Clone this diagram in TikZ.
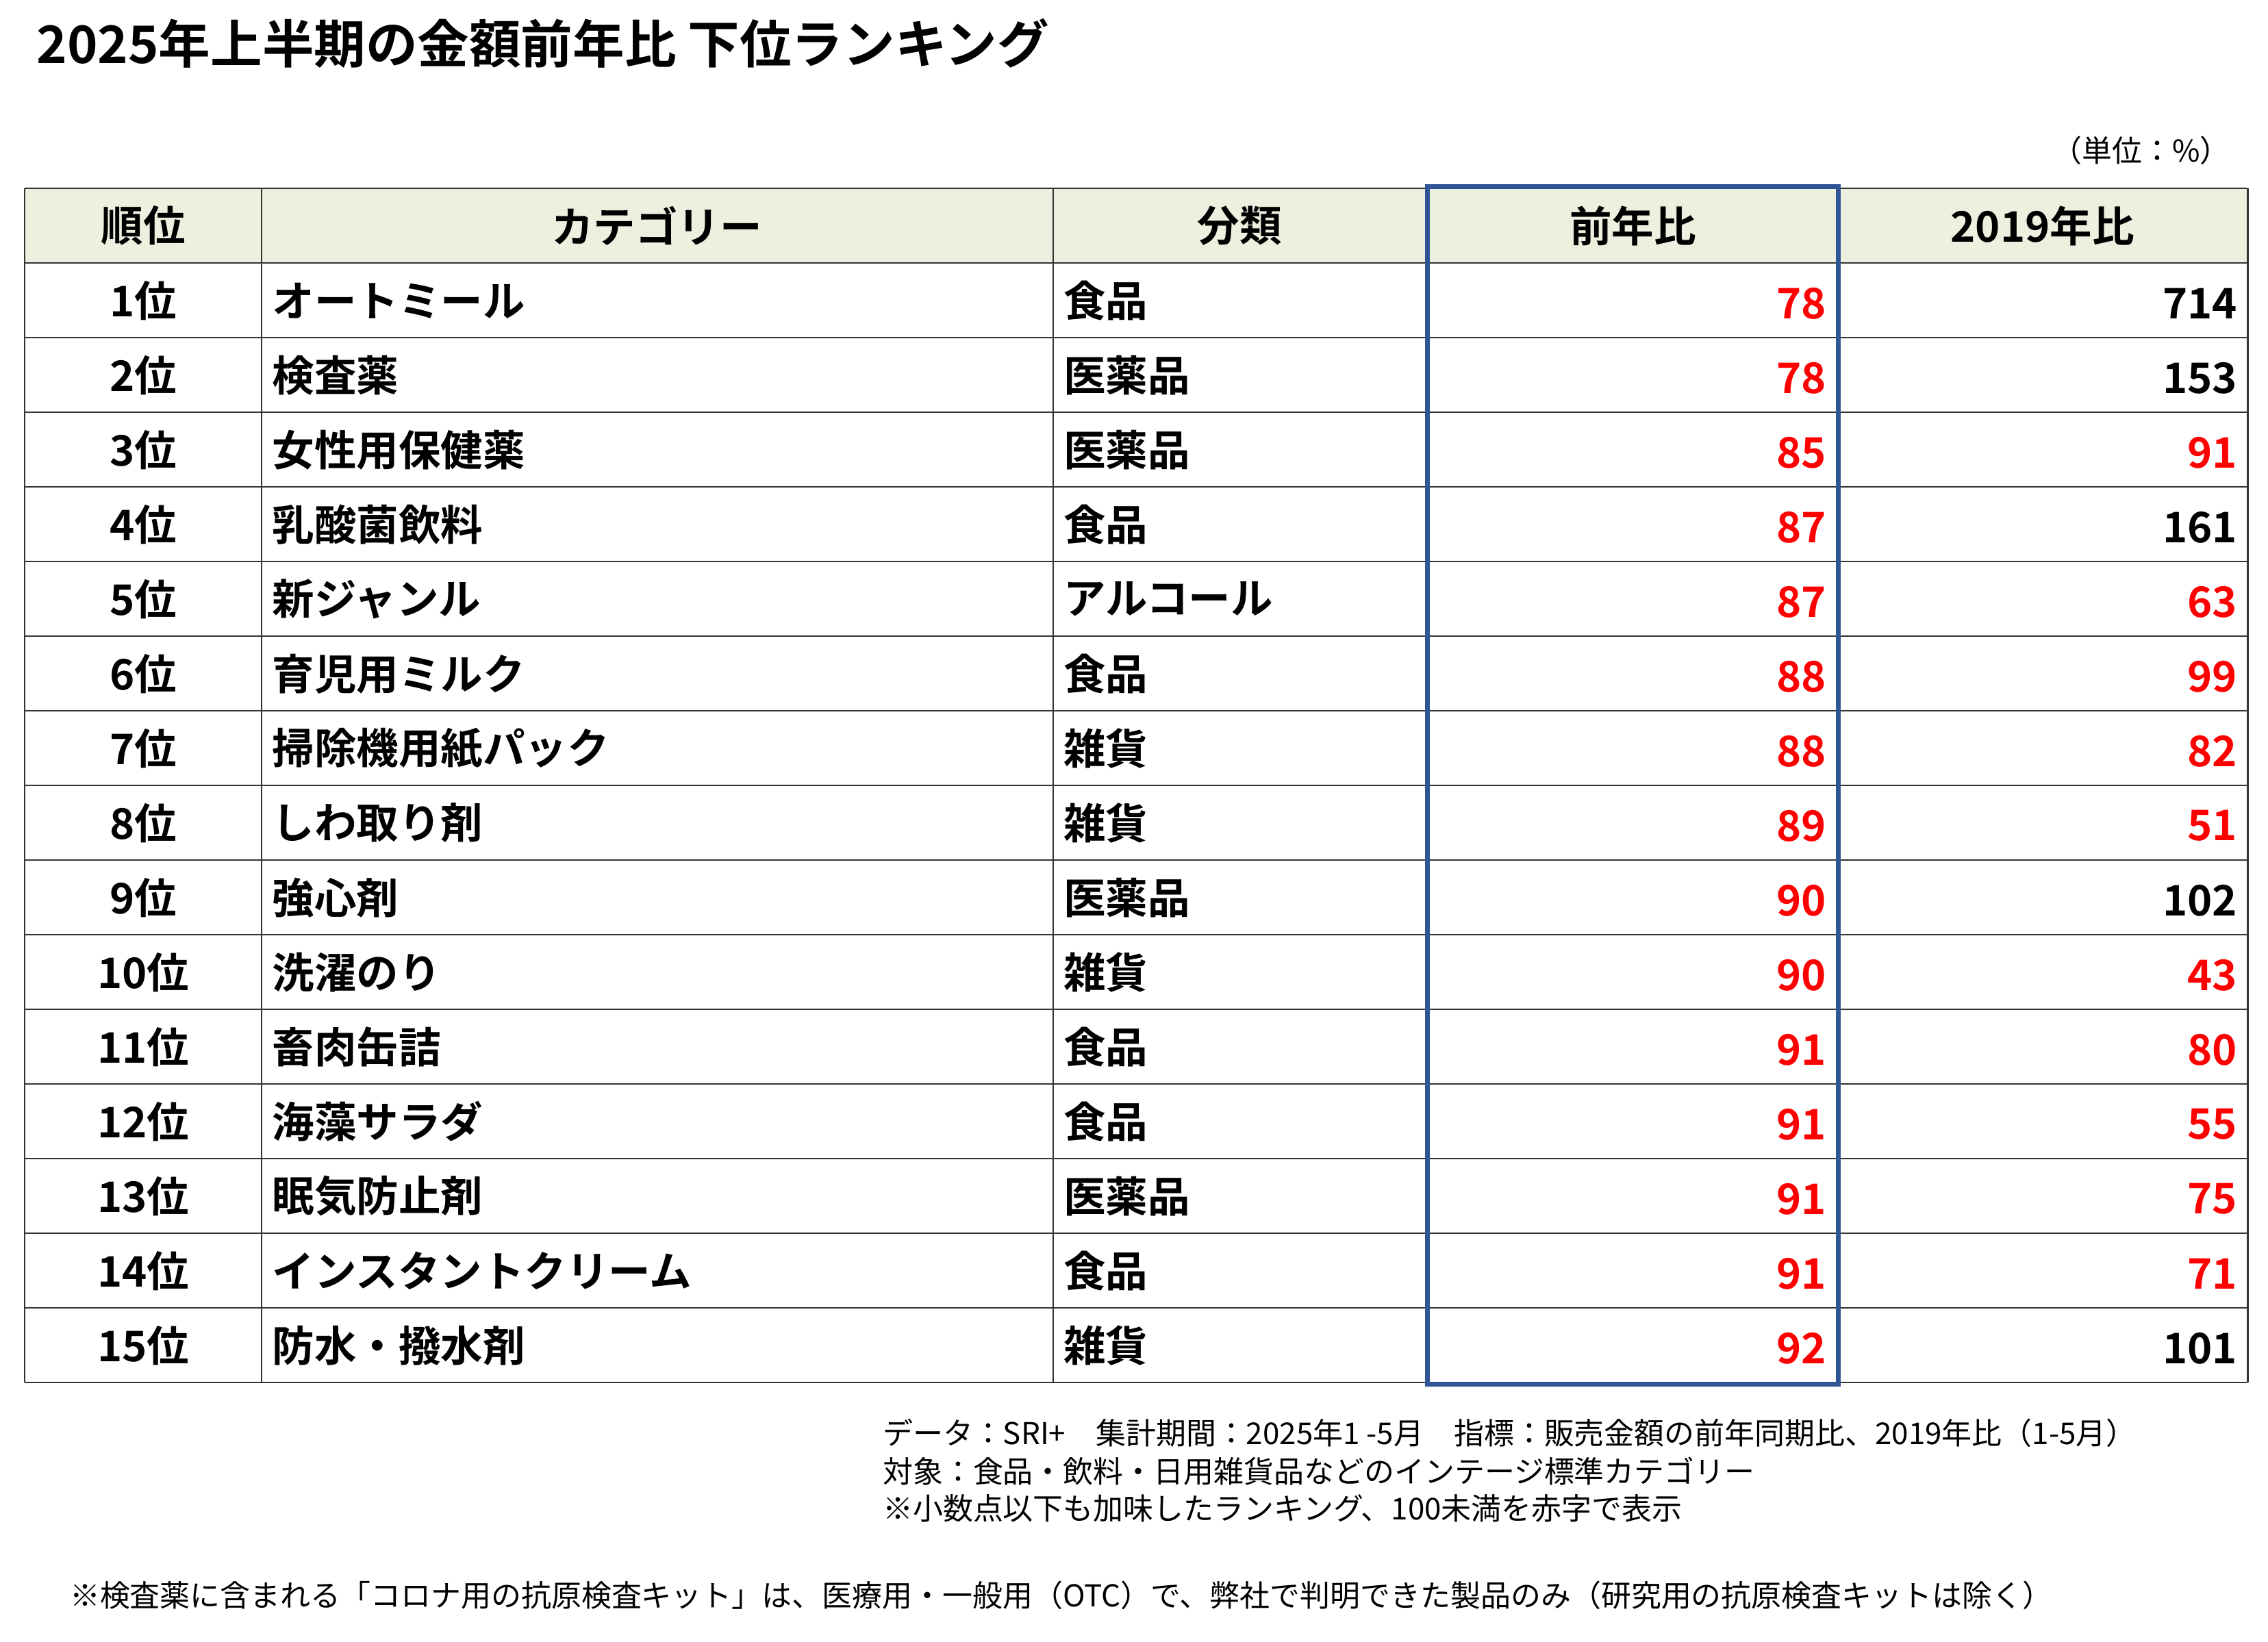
\documentclass[tikz,border=0pt]{standalone}
\usepackage{fontspec}
\setmainfont{Noto Sans CJK JP}
\newfontfamily\jpb{Noto Sans CJK JP Bold}
\newfontfamily\jpr{Noto Sans CJK JP}
\definecolor{hdr}{HTML}{EBF1DE}
\definecolor{bbox}{HTML}{2F5597}
\definecolor{rd}{HTML}{FF0000}
\tikzset{cell/.style={font=\jpb\fontsize{17.5}{20}\selectfont,inner sep=0pt},
 note/.style={font=\jpr\fontsize{12.5}{15}\selectfont,anchor=west,inner sep=0pt}}
\begin{document}
\begin{tikzpicture}[x=0.02112cm,y=-0.02112cm]
\useasboundingbox (0,0) rectangle (1568,1135);
\node[anchor=west,inner sep=0pt,font=\jpb\fontsize{21.5}{24}\selectfont] (title) at (25,30) {2025年上半期の金額前年比 下位ランキング};
\node[anchor=east,inner sep=0pt,font=\jpr\fontsize{12.5}{15}\selectfont] (unit) at (1542,104) {（単位：\%）};
\fill[hdr] (17,130) rectangle (1554,182);
\foreach \x in {17,181,728,987,1271,1554} \draw[black!80,line width=0.6pt] (\x,130) -- (\x,956);
\draw[black!80,line width=0.6pt] (17,130) -- (1554,130);
\foreach \i in {0,...,15} \draw[black!80,line width=0.6pt] (17,{182+51.6*\i}) -- (1554,{182+51.6*\i});
\node[cell] (h1) at (99,156) {順位};
\node[cell] (h2) at (454,156) {カテゴリー};
\node[cell] (h3) at (857,156) {分類};
\node[cell] (h4) at (1129,156) {前年比};
\node[cell] (h5) at (1412,156) {2019年比};
\foreach [count=\i] \c/\k/\a/\b/\bc in {
オートミール/食品/78/714/black,
検査薬/医薬品/78/153/black,
女性用保健薬/医薬品/85/91/rd,
乳酸菌飲料/食品/87/161/black,
新ジャンル/アルコール/87/63/rd,
育児用ミルク/食品/88/99/rd,
掃除機用紙パック/雑貨/88/82/rd,
しわ取り剤/雑貨/89/51/rd,
強心剤/医薬品/90/102/black,
洗濯のり/雑貨/90/43/rd,
畜肉缶詰/食品/91/80/rd,
海藻サラダ/食品/91/55/rd,
眠気防止剤/医薬品/91/75/rd,
インスタントクリーム/食品/91/71/rd,
防水・撥水剤/雑貨/92/101/black}{
 \pgfmathsetmacro{\yy}{182+51.6*(\i-0.5)}
 \node[cell] (r\i) at (99,\yy) {\i 位};
 \node[cell,anchor=west] (c\i) at (188,\yy) {\c};
 \node[cell,anchor=west] (k\i) at (735,\yy) {\k};
 \node[cell,anchor=east,text=rd] (a\i) at (1263,\yy+2) {\a};
 \node[cell,anchor=east,text=\bc] (b\i) at (1547,\yy+2) {\b};
}
\draw[bbox,line width=2pt] (987,129) rectangle (1271,957);
\node[note] (n1) at (610,991) {データ：SRI+\quad 集計期間：2025年1 -5月\quad 指標：販売金額の前年同期比、2019年比（1-5月）};
\node[note] (n2) at (610,1017) {対象：食品・飲料・日用雑貨品などのインテージ標準カテゴリー};
\node[note] (n3) at (610,1043) {※小数点以下も加味したランキング、100未満を赤字で表示};
\node[note] (n4) at (48,1103) {※検査薬に含まれる「コロナ用の抗原検査キット」は、医療用・一般用（OTC）で、弊社で判明できた製品のみ（研究用の抗原検査キットは除く）};
\end{tikzpicture}
\end{document}
